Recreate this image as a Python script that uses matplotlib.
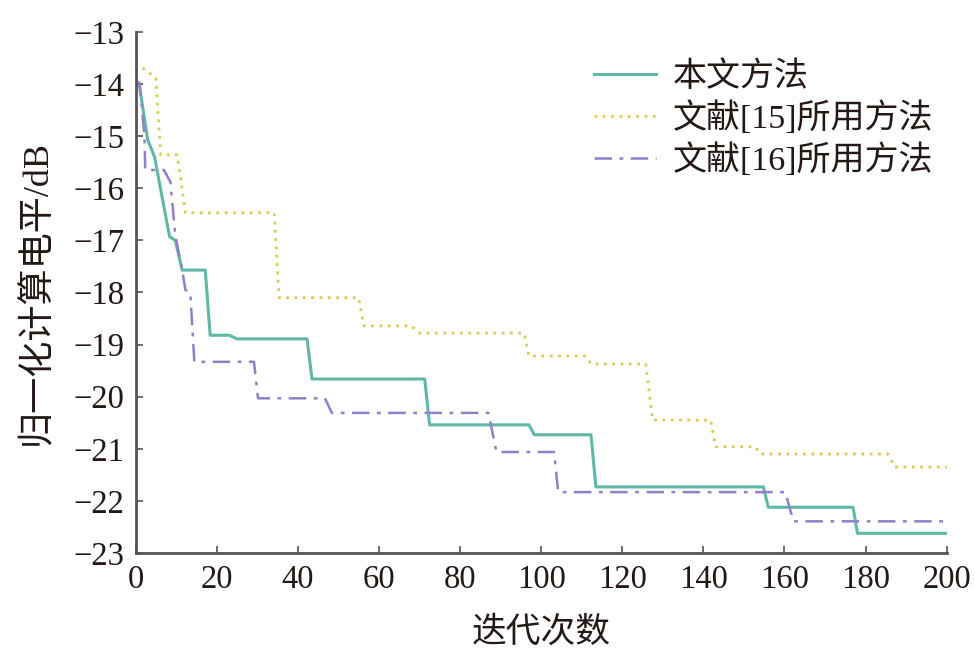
import matplotlib
matplotlib.use("Agg")
import matplotlib.pyplot as plt

plt.rcParams['font.family'] = ['Liberation Serif', 'Noto Sans CJK SC']
plt.rcParams['axes.unicode_minus'] = True

# 本文方法
x_ours = [0, 1, 3, 4.7, 5.9, 8.4, 9.8, 11.5, 17.2, 18.4, 23.1, 25, 42.3, 43.5, 71.3, 72.5,
          97, 98.3, 112.3, 113.5, 154.8, 156, 176.9, 178, 200]
y_ours = [-13.95, -14.05, -15.07, -15.4, -15.9, -16.93, -17.0, -17.57, -17.57, -18.82, -18.82, -18.89,
          -18.89, -19.66, -19.66, -20.54, -20.54, -20.73, -20.73, -21.73, -21.73, -22.12, -22.12,
          -22.62, -22.62]

# 文献[15]所用方法
x_15 = [0, 1, 5, 6.2, 10.3, 12.3, 34.2, 35.4, 55, 56.3, 68, 70, 95.8, 97, 111, 112.3, 125.8, 127.5,
        141.8, 143, 152.8, 154, 185.5, 187.2, 200]
y_15 = [-13.6, -13.65, -13.88, -15.36, -15.36, -16.47, -16.47, -18.1, -18.1, -18.64, -18.64, -18.78,
        -18.78, -19.22, -19.22, -19.37, -19.37, -20.45, -20.45, -20.96, -20.96, -21.1, -21.1,
        -21.35, -21.35]

# 文献[16]所用方法
x_16 = [0, 1, 2.2, 2.4, 7, 8.6, 9.8, 11.5, 12.3, 13.5, 14.5, 29.2, 30.2, 46.7, 48.4, 87, 89,
        103.2, 104.2, 160.2, 162.2, 200]
y_16 = [-13.95, -13.98, -15.0, -15.65, -15.65, -15.88, -16.9, -17.57, -17.95, -18.0, -19.33, -19.33,
        -20.03, -20.03, -20.31, -20.31, -21.06, -21.06, -21.83, -21.83, -22.39, -22.39]

labels = ['本文方法', '文献[15]所用方法', '文献[16]所用方法']
x_ticks = [0, 20, 40, 60, 80, 100, 120, 140, 160, 180, 200]
y_ticks = [-23, -22, -21, -20, -19, -18, -17, -16, -15, -14, -13]

fig = plt.figure(figsize=(9.75, 6.64), dpi=100)
ax = fig.add_axes([0.139, 0.167, 0.832, 0.785])

ax.plot(x_ours, y_ours, color='#5fb8a6', lw=2.2, ls='-', label=labels[0])
ax.plot(x_15, y_15, color='#d9cc55', lw=2.0, ls=(0, (1, 2)), label=labels[1])
ax.plot(x_16, y_16, color='#8f80c8', lw=1.8, ls=(0, (7, 3, 1.5, 3)), label=labels[2])

ax.set_xlim(0, 200)
ax.set_ylim(-23, -13)
ax.set_xticks(x_ticks)
ax.set_yticks(y_ticks)
ax.tick_params(direction='in', length=5, width=1.2, colors='#555555', labelsize=23.5,
               labelcolor='#231815', pad=8)
for s in ['top', 'right']:
    ax.spines[s].set_visible(False)
for s in ['left', 'bottom']:
    ax.spines[s].set_color('#555555')
    ax.spines[s].set_linewidth(2.0)

ax.set_xlabel('迭代次数', fontsize=25, color='#231815', labelpad=16)
ax.set_ylabel('归一化计算电平/dB', fontsize=26, color='#231815', labelpad=14)

leg = ax.legend(loc='upper right', bbox_to_anchor=(1.021, 1.003), frameon=False, fontsize=24.5,
                handlelength=1.8, handletextpad=0.5, labelspacing=0.25)
for t in leg.get_texts():
    t.set_color('#231815')

fig.savefig('out.png', dpi=100)
